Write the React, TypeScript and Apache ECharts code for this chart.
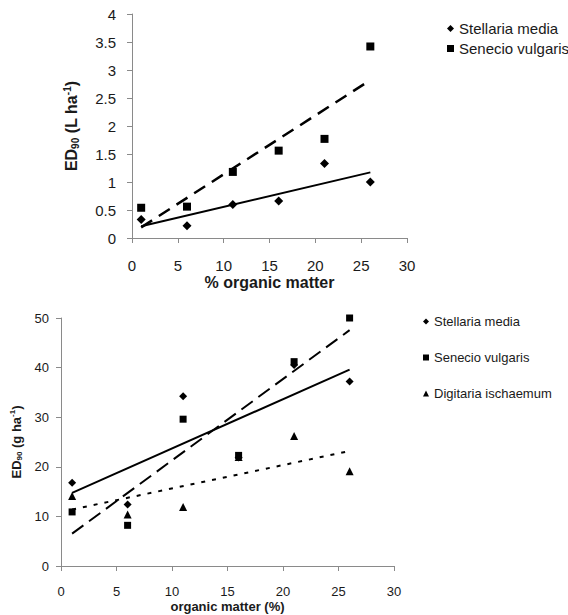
import React, { useEffect, useRef } from "react";
import * as echarts from "echarts";

// Top panel: ED90 (L ha-1)
const topX = [1, 6, 11, 16, 21, 26];
const topStellaria = [0.33, 0.22, 0.6, 0.66, 1.33, 1.0];
const topSenecio = [0.54, 0.56, 1.18, 1.56, 1.77, 3.42];

// Bottom panel: ED90 (g ha-1)
const botX = [1, 6, 11, 16, 21, 26];
const botStellaria = [16.8, 12.4, 34.2, 21.9, 40.5, 37.2];
const botSenecio = [10.9, 8.2, 29.6, 22.3, 41.2, 50.0];
const botDigitaria = [14.1, 10.4, 11.9, 22.0, 26.2, 19.1];

const xTicks = { min: 0, max: 30, interval: 5 };
const topYTicks = { min: 0, max: 4, interval: 0.5 };
const botYTicks = { min: 0, max: 50, interval: 10 };

const FONT = "Liberation Sans, Arial, sans-serif";
const AXIS_COLOR = "#8a8a8a";
const TEXT_COLOR = "#1a1a1a";

function pairs(xs: number[], ys: number[]) {
  return xs.map((x, i) => [x, ys[i]]);
}

function fitLine(xs: number[], ys: number[]) {
  const n = xs.length;
  const mx = xs.reduce((a, b) => a + b, 0) / n;
  const my = ys.reduce((a, b) => a + b, 0) / n;
  let sxy = 0;
  let sxx = 0;
  for (let i = 0; i < n; i++) {
    sxy += (xs[i] - mx) * (ys[i] - my);
    sxx += (xs[i] - mx) * (xs[i] - mx);
  }
  const slope = sxy / sxx;
  const x0 = Math.min(...xs);
  const x1 = Math.max(...xs);
  return [
    [x0, my + slope * (x0 - mx)],
    [x1, my + slope * (x1 - mx)],
  ];
}

export default function App() {
  const ref = useRef<HTMLDivElement>(null);

  useEffect(() => {
    if (!ref.current) return;
    const chart = echarts.init(ref.current, undefined, { renderer: "svg" });

    const xAxisBase = (gridIndex: number, fontSize: number, margin: number, name: string, nameGap: number, nameSize: number) => ({
      type: "value",
      gridIndex,
      ...xTicks,
      splitLine: { show: false },
      axisLine: { show: true, onZero: false, lineStyle: { color: AXIS_COLOR, width: 1 } },
      axisTick: { show: true, length: 5, inside: false, lineStyle: { color: AXIS_COLOR } },
      axisLabel: { fontFamily: FONT, fontSize, color: TEXT_COLOR, margin },
      name,
      nameLocation: "middle",
      nameGap,
      nameTextStyle: { fontFamily: FONT, fontSize: nameSize, fontWeight: "bold", color: TEXT_COLOR },
    });

    const yAxisBase = (gridIndex: number, ticks: any, fontSize: number, margin: number, unit: string, nameGap: number, nameSize: number) => ({
      type: "value",
      gridIndex,
      ...ticks,
      splitLine: { show: false },
      axisLine: { show: true, onZero: false, lineStyle: { color: AXIS_COLOR, width: 1 } },
      axisTick: { show: true, length: 5, inside: false, lineStyle: { color: AXIS_COLOR } },
      axisLabel: { fontFamily: FONT, fontSize, color: TEXT_COLOR, margin },
      name: `{b|ED}{sub|90}{b| (${unit} ha}{sup|-1}{b|)}`,
      nameLocation: "middle",
      nameGap,
      nameTextStyle: {
        fontFamily: FONT,
        fontSize: nameSize,
        fontWeight: "bold",
        color: TEXT_COLOR,
        rich: {
          b: { fontFamily: FONT, fontSize: nameSize, fontWeight: "bold", color: TEXT_COLOR, lineHeight: nameSize + 2 },
          sub: {
            fontFamily: FONT,
            fontSize: Math.round(nameSize * 0.6),
            fontWeight: "bold",
            color: TEXT_COLOR,
            verticalAlign: "bottom",
            lineHeight: nameSize + 2,
          },
          sup: {
            fontFamily: FONT,
            fontSize: Math.round(nameSize * 0.6),
            fontWeight: "bold",
            color: TEXT_COLOR,
            verticalAlign: "top",
            lineHeight: nameSize + 2,
          },
        },
      },
    });

    const scatter = (name: string, xi: number, data: number[][], symbol: string, size: number) => ({
      type: "scatter",
      name,
      xAxisIndex: xi,
      yAxisIndex: xi,
      data,
      symbol,
      symbolSize: size,
      itemStyle: { color: "#000", opacity: 1 },
      z: 3,
    });

    const trend = (name: string, xi: number, data: number[][], type: any, width: number) => ({
      type: "line",
      name,
      xAxisIndex: xi,
      yAxisIndex: xi,
      data,
      symbol: "none",
      lineStyle: { color: "#000", width, type },
      z: 2,
      silent: true,
    });

    chart.setOption({
      animation: false,
      backgroundColor: "#fff",
      grid: [
        { left: 132, top: 14, width: 275, height: 224 },
        { left: 61, top: 318, width: 333, height: 248 },
      ],
      xAxis: [
        xAxisBase(0, 15, 20, "% organic matter", 36, 16),
        xAxisBase(1, 13, 19, "organic matter (%)", 34, 13),
      ],
      yAxis: [
        yAxisBase(0, topYTicks, 15, 16, "L", 52, 16),
        yAxisBase(1, botYTicks, 13, 12, "g", 36, 13),
      ],
      legend: [
        {
          orient: "vertical",
          left: 442,
          top: 16,
          itemWidth: 7,
          itemHeight: 7,
          itemGap: 5,
          itemStyle: { opacity: 1, color: "#000" },
          textStyle: { fontFamily: FONT, fontSize: 15, color: TEXT_COLOR },
          data: [
            { name: "Stellaria media", icon: "diamond" },
            { name: "Senecio vulgaris", icon: "rect" },
          ],
        },
        {
          orient: "vertical",
          left: 418,
          top: 310,
          itemWidth: 6,
          itemHeight: 6,
          itemGap: 23,
          itemStyle: { opacity: 1, color: "#000" },
          textStyle: { fontFamily: FONT, fontSize: 13, color: TEXT_COLOR },
          data: [
            { name: "Stellaria media ", icon: "diamond" },
            { name: "Senecio vulgaris ", icon: "rect" },
            { name: "Digitaria ischaemum", icon: "triangle" },
          ],
        },
      ],
      series: [
        trend("trend-top-stellaria", 0, fitLine(topX, topStellaria), "solid", 2),
        trend("trend-top-senecio", 0, fitLine(topX, topSenecio), [13, 8], 2.5),
        scatter("Stellaria media", 0, pairs(topX, topStellaria), "diamond", 9),
        scatter("Senecio vulgaris", 0, pairs(topX, topSenecio), "rect", 8),
        trend("trend-bot-stellaria", 1, fitLine(botX, botStellaria), "solid", 2),
        trend("trend-bot-senecio", 1, fitLine(botX, botSenecio), [14, 7], 2),
        trend("trend-bot-digitaria", 1, fitLine(botX, botDigitaria), [4, 7], 2),
        scatter("Stellaria media ", 1, pairs(botX, botStellaria), "diamond", 8),
        scatter("Senecio vulgaris ", 1, pairs(botX, botSenecio), "rect", 7),
        scatter("Digitaria ischaemum", 1, pairs(botX, botDigitaria), "triangle", 8),
      ],
    });

    return () => chart.dispose();
  }, []);

  return <div ref={ref} style={{ width: 568, height: 615, position: "absolute", left: 0, top: 0 }} />;
}
